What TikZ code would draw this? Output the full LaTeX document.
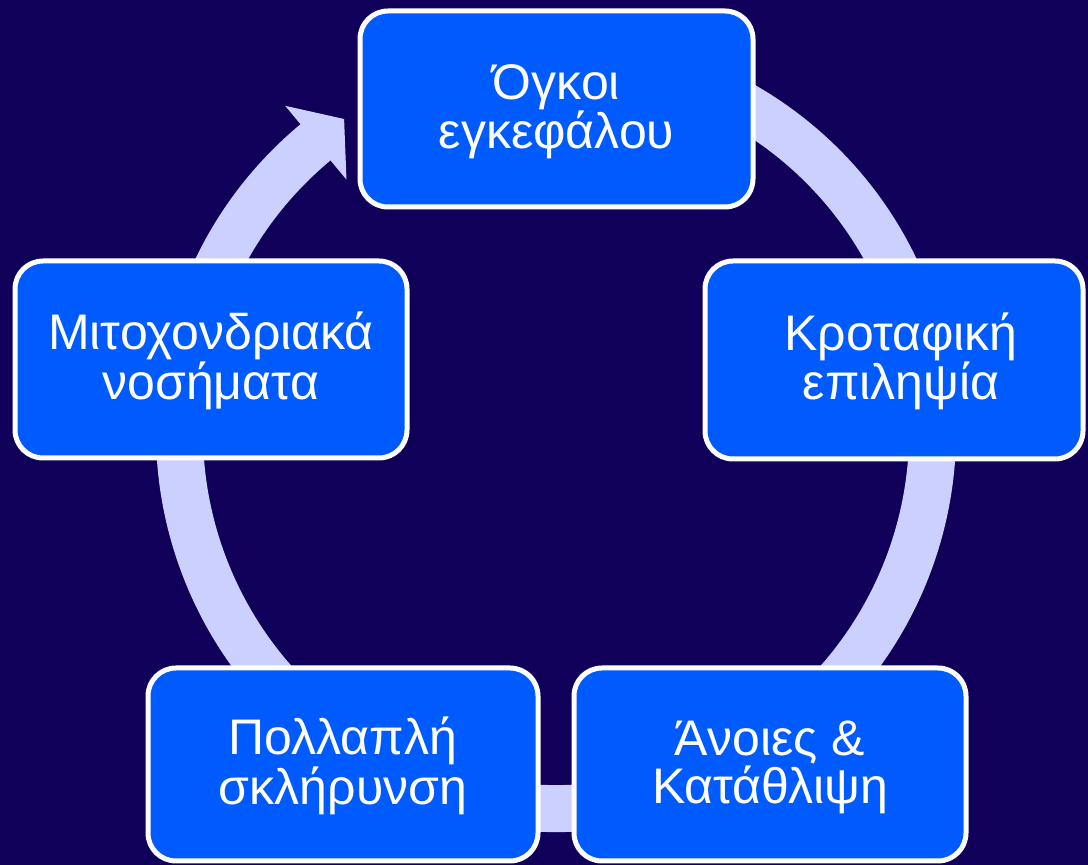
\documentclass[tikz,border=0pt]{standalone}
\usepackage{fontspec}
\setmainfont{Liberation Sans}
\definecolor{bgc}{HTML}{10005A}
\definecolor{boxc}{HTML}{005BFF}
\definecolor{ringc}{HTML}{CCD0FF}
\newcommand\mystrutA{\rule{0pt}{42pt}}
\newcommand\mystrutB{\rule[-12pt]{0pt}{12pt}}
\begin{document}
\begin{tikzpicture}[x=1pt,y=1pt,
  cbox/.style={draw=white, line width=5pt, fill=boxc, rounded corners=28pt,
    inner sep=0pt, text=white, align=center,
    font=\fontsize{50}{48}\selectfont},
  ring/.style={ringc, line width=47pt}]
\fill[bgc] (0,0) rectangle (1088,865);
\useasboundingbox (0,0) rectangle (1088,865);
\coordinate (c) at (556,433);
% ring arrow
\draw[ring] ([shift={(110:376.5)}]c) arc[start angle=110, end angle=-231, radius=376.5pt];
\fill[ringc] ([shift={(129.7:424)}]c) -- ([shift={(124.1:378)}]c) -- ([shift={(129.7:328)}]c) -- cycle;
% boxes
\node[cbox, minimum width=393pt, minimum height=196pt] (top) at (556.5,756)
  {\mystrutA Όγκοι\\εγκεφάλου\mystrutB};
\node[cbox, minimum width=378pt, minimum height=198pt] (right) at (894,505)
  {\hspace*{14pt}\mystrutA Κροταφική\\\hspace*{14pt}επιληψία\mystrutB};
\node[cbox, minimum width=392pt, minimum height=197pt] (left) at (211,505.5)
  {\mystrutA Μιτοχονδριακά\\νοσήματα\mystrutB};
\node[cbox, minimum width=390pt, minimum height=193pt] (bl) at (343,100.5)
  {\mystrutA Πολλαπλή\\σκλήρυνση\mystrutB};
\node[cbox, minimum width=392pt, minimum height=193pt] (br) at (770,100.5)
  {\mystrutA Άνοιες \&\\Κατάθλιψη\mystrutB};
\end{tikzpicture}
\end{document}
